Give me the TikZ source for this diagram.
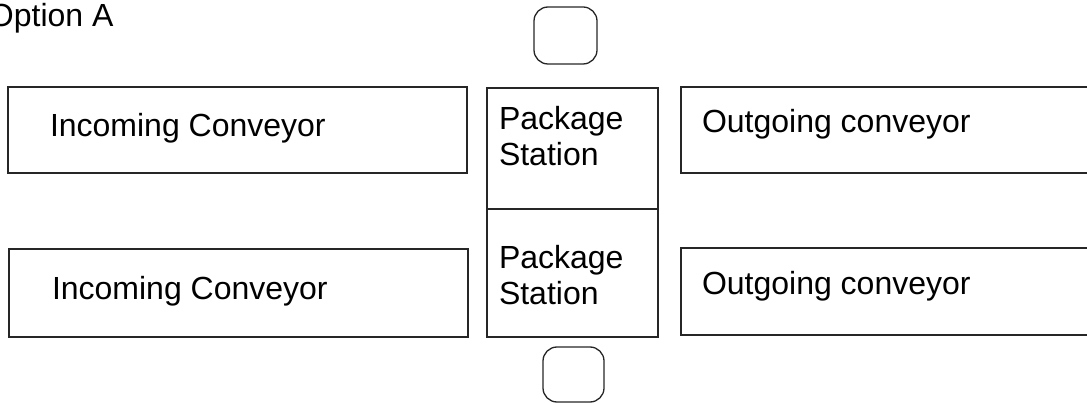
\documentclass[tikz,border=0pt]{standalone}
\usepackage{fontspec}
\setmainfont{Liberation Sans}
\begin{document}
\begin{tikzpicture}[x=1pt,y=-1pt,
  every node/.style={inner sep=0pt, outer sep=0pt},
  box/.style={draw=black!85, line width=1.3pt, rectangle},
  slot/.style={draw=black!85, line width=1.3pt, rounded corners=14pt},
  label/.style={font=\fontsize{32}{36}\selectfont, anchor=base west, align=left},
  stack/.style={font=\fontsize{32}{36}\selectfont, anchor=north west, align=left}
]
\useasboundingbox (0,0) rectangle (1087,403);

% title
\node[label] (title) at (-11,27) {Option A};

% incoming conveyors
\draw[box] (8,87) rectangle (467,173) coordinate (inA);
\node[label] (inAtxt) at (50,137) {Incoming Conveyor};
\draw[box] (9,249) rectangle (468,337) coordinate (inB);
\node[label] (inBtxt) at (52,300) {Incoming Conveyor};

% package stations
\draw[box] (487,88) rectangle (658,209);
\draw[box] (487,209) rectangle (658,337);
\node[stack] (psA) at (499,106) {Package\\Station};
\node[stack] (psB) at (499,245) {Package\\Station};

% outgoing conveyors (run past the right edge)
\draw[box] (681,87) rectangle (1110,173);
\node[label] (outAtxt) at (702,133) {Outgoing conveyor};
\draw[box] (681,248) rectangle (1110,335);
\node[label] (outBtxt) at (702,295) {Outgoing conveyor};

% small rounded slots above and below the stations
\draw[slot] (534,7) rectangle (597,64);
\draw[slot] (543,347) rectangle (604,402);
\end{tikzpicture}
\end{document}
